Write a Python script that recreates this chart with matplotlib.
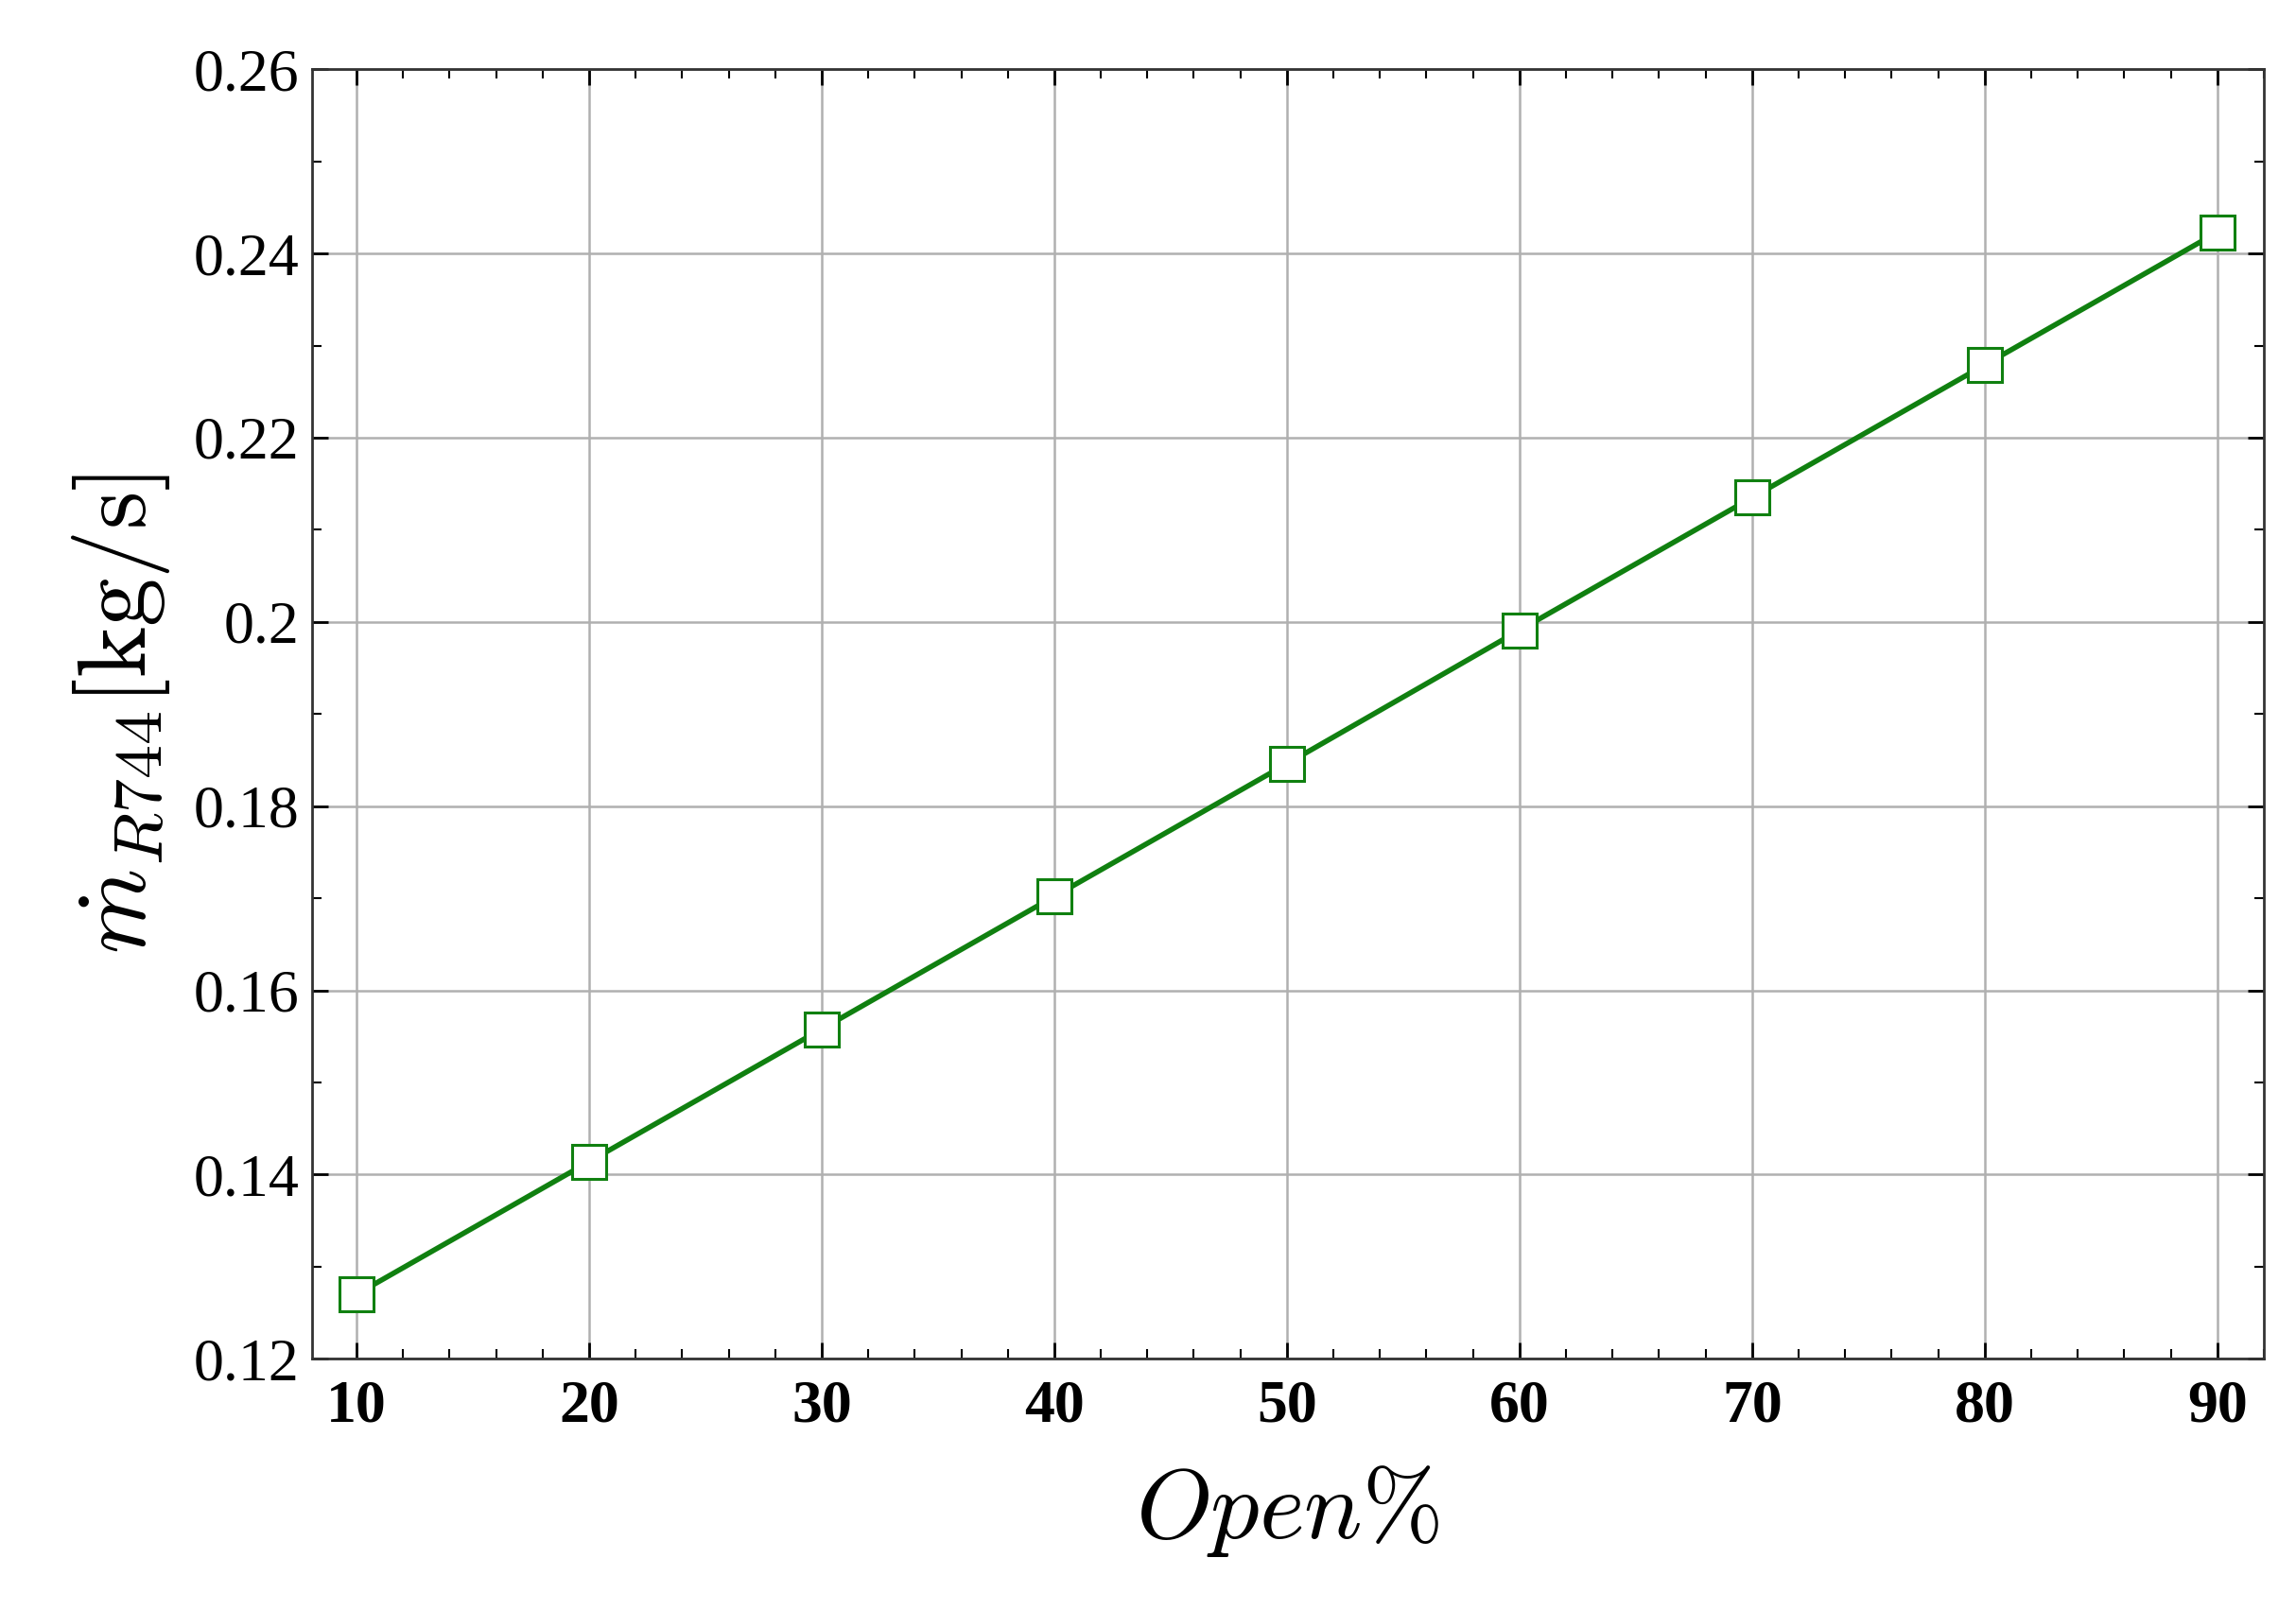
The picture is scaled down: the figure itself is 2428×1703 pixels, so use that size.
import numpy as np
import matplotlib
matplotlib.use("Agg")
import matplotlib.pyplot as plt
from matplotlib.ticker import MultipleLocator

open_pct = [10, 20, 30, 40, 50, 60, 70, 80, 90]
mdot = [0.1270, 0.1414, 0.1558, 0.1702, 0.1846, 0.1991, 0.2135, 0.2279, 0.2423]
y_ticks = [0.12, 0.14, 0.16, 0.18, 0.2, 0.22, 0.24, 0.26]
y_labels = ["0.12", "0.14", "0.16", "0.18", "0.2", "0.22", "0.24", "0.26"]

plt.rcParams["mathtext.fontset"] = "cm"
plt.rcParams["font.family"] = ["Liberation Serif", "DejaVu Serif"]

fig = plt.figure(figsize=(24.28, 17.03), dpi=100)
ax = fig.add_axes([0.136, 0.156, 0.850, 0.801])

ax.plot(open_pct, mdot, color="#108010", lw=4, marker="s", ms=26,
        mfc="white", mec="#108010", mew=2.2)

ax.set_xlim(8.1, 92)
ax.set_ylim(0.12, 0.26)
ax.set_xticks(open_pct)
ax.set_yticks(y_ticks)
ax.set_yticklabels(y_labels)
ax.xaxis.set_minor_locator(MultipleLocator(2))
ax.yaxis.set_minor_locator(MultipleLocator(0.01))
ax.grid(True, which="major", color="#b0b0b0", lw=1.8)
ax.tick_params(which="both", direction="in", top=True, right=True)
ax.tick_params(which="major", length=12, width=2)
ax.tick_params(which="minor", length=7, width=1.5)
ax.tick_params(axis="x", labelsize=46, pad=16)
ax.tick_params(axis="y", labelsize=46, pad=10)
for lab in ax.get_xticklabels():
    lab.set_fontweight("bold")
for sp in ax.spines.values():
    sp.set_linewidth(2)
    sp.set_color("#333333")

ax.set_xlabel(r"$Open\%$", fontsize=74, labelpad=22)
ax.set_ylabel(r"$\dot{m}_{R744}[\mathrm{kg/s}]$", fontsize=74, labelpad=16)

fig.savefig("out.png", dpi=100)
